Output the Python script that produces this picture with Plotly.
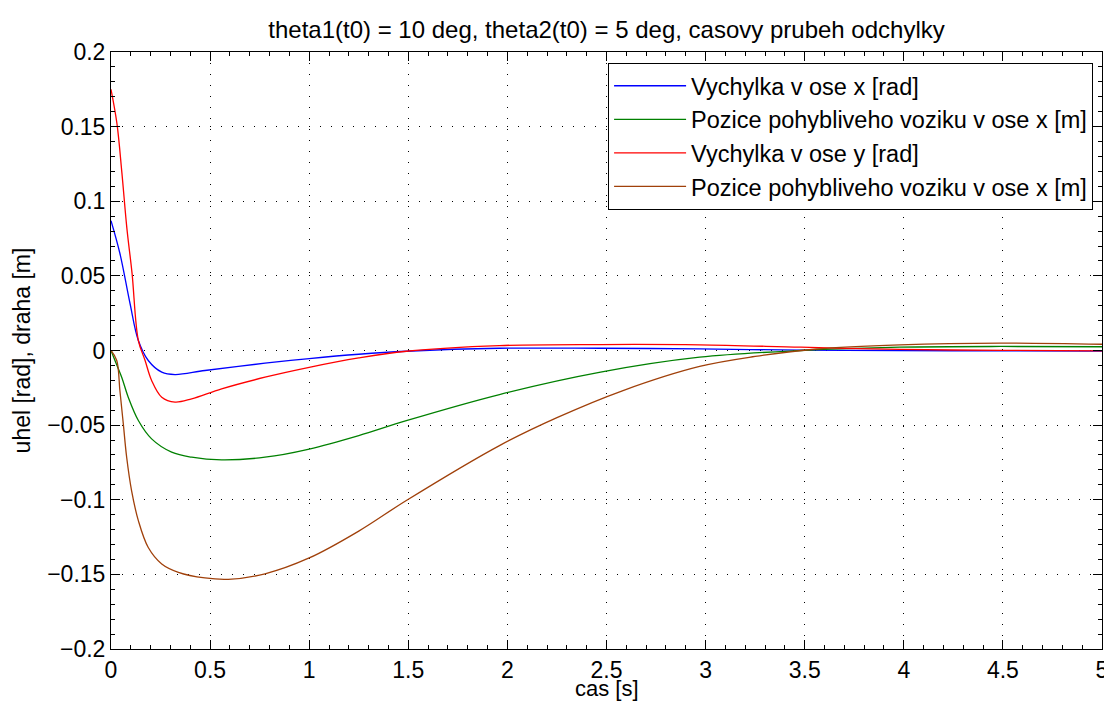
import plotly.graph_objects as go

# time samples (s) and values
t_blue = [0, 0.045, 0.096, 0.138, 0.188, 0.256, 0.323, 0.474, 0.777, 1.0, 1.25, 1.49, 1.96, 2.47, 2.97, 3.48, 3.98, 4.5, 5.0]
v_blue = [0.087, 0.065, 0.0315, 0.0067, -0.0067, -0.0145, -0.0161, -0.0134, -0.0085, -0.0054, -0.0025, -0.0005, 0.0015, 0.0015, 0.0011, 0.0002, 0.0, -0.0003, -0.0004]

t_green = [0, 0.02, 0.054, 0.087, 0.138, 0.205, 0.306, 0.407, 0.558, 0.777, 1.0, 1.25, 1.49, 1.96, 2.47, 2.97, 3.48, 3.98, 4.49, 5.0]
v_green = [0.0, -0.0067, -0.0179, -0.0313, -0.0469, -0.0592, -0.0681, -0.0715, -0.0733, -0.0715, -0.066, -0.057, -0.047, -0.0295, -0.0145, -0.0045, 0.0, 0.0022, 0.0027, 0.0025]

t_red = [0, 0.03, 0.055, 0.08, 0.106, 0.138, 0.172, 0.205, 0.256, 0.323, 0.407, 0.558, 0.777, 1.0, 1.25, 1.49, 1.96, 2.47, 2.97, 3.48, 3.98, 4.5, 5.0]
v_red = [0.175, 0.152, 0.119, 0.082, 0.052, 0.0067, -0.0067, -0.0201, -0.0313, -0.0346, -0.0324, -0.0257, -0.0179, -0.0113, -0.005, -0.0005, 0.0033, 0.0040, 0.0038, 0.0022, 0.0007, 0.0001, -0.0002]

t_brown = [0, 0.029, 0.045, 0.062, 0.079, 0.104, 0.138, 0.188, 0.256, 0.34, 0.474, 0.592, 0.777, 1.0, 1.25, 1.49, 1.96, 2.25, 2.58, 2.97, 3.25, 3.56, 3.98, 4.49, 5.0]
v_brown = [0.0, -0.0067, -0.027, -0.049, -0.0715, -0.094, -0.114, -0.132, -0.143, -0.1486, -0.1524, -0.1533, -0.1496, -0.139, -0.121, -0.1005, -0.0637, -0.045, -0.027, -0.0107, -0.004, 0.001, 0.0038, 0.0050, 0.0042]

names = ["Vychylka v ose x [rad]", "Pozice pohybliveho voziku v ose x [m]",
         "Vychylka v ose y [rad]", "Pozice pohybliveho voziku v ose x [m]"]
colors = ["#0000FF", "#008000", "#FF0000", "#A0400A"]

x_ticks = [0, 0.5, 1, 1.5, 2, 2.5, 3, 3.5, 4, 4.5, 5]
x_ticktext = ["0", "0.5", "1", "1.5", "2", "2.5", "3", "3.5", "4", "4.5", "5"]
y_ticks = [-0.2, -0.15, -0.1, -0.05, 0, 0.05, 0.1, 0.15, 0.2]
y_ticktext = ["\u22120.2", "\u22120.15", "\u22120.1", "\u22120.05", "0", "0.05", "0.1", "0.15", "0.2"]

fig = go.Figure()
for t, v, n, c in zip([t_blue, t_green, t_red, t_brown],
                      [v_blue, v_green, v_red, v_brown], names, colors):
    fig.add_trace(go.Scatter(x=t, y=v, mode="lines", name=n,
                             line=dict(color=c, width=1.3, shape="spline", smoothing=1.0)))

font_family = "Liberation Sans, Arial, sans-serif"
axis_common = dict(
    showline=True, linecolor="black", linewidth=1, mirror="ticks",
    ticks="inside", ticklen=9, tickcolor="black",
    showgrid=True, gridcolor="black", griddash="1px,10px", gridwidth=1,
    zeroline=False, automargin=False,
    tickfont=dict(size=23, color="black", family=font_family),
)

fig.update_layout(
    width=1104, height=695,
    paper_bgcolor="white", plot_bgcolor="white",
    margin=dict(l=103, r=10, t=44, b=54),
    title=dict(text="theta1(t0) = 10 deg, theta2(t0) = 5 deg, casovy prubeh odchylky",
               x=0.5, xref="paper", yref="container", y=1 - 22 / 695, yanchor="middle",
               font=dict(size=24, color="black", family=font_family)),
    font=dict(family=font_family, color="black"),
    legend=dict(x=0.991, y=0.9816, xanchor="right", yanchor="top",
                bgcolor="white", bordercolor="black", borderwidth=1,
                font=dict(size=23.5, color="black", family=font_family),
                tracegroupgap=0, itemwidth=72),
    showlegend=True,
    annotations=[dict(text="cas [s]", xref="paper", yref="paper", x=0.5, y=-0.0655,
                      xanchor="center", yanchor="middle", showarrow=False,
                      font=dict(size=22, color="black", family=font_family))],
)
fig.update_xaxes(range=[0, 5], tickvals=x_ticks, ticktext=x_ticktext,
                 ticklabelstandoff=0,
                 minor=dict(ticks="inside", ticklen=4, tickcolor="black", showgrid=False, dtick=0.1),
                 **axis_common)
fig.update_yaxes(range=[-0.2, 0.2], tickvals=y_ticks, ticktext=y_ticktext,
                 minor=dict(ticks="inside", ticklen=4, tickcolor="black", showgrid=False, dtick=0.01),
                 title=dict(text="uhel [rad], draha [m]", font=dict(size=23, family=font_family), standoff=10),
                 **axis_common)

fig.write_html("out.html")
